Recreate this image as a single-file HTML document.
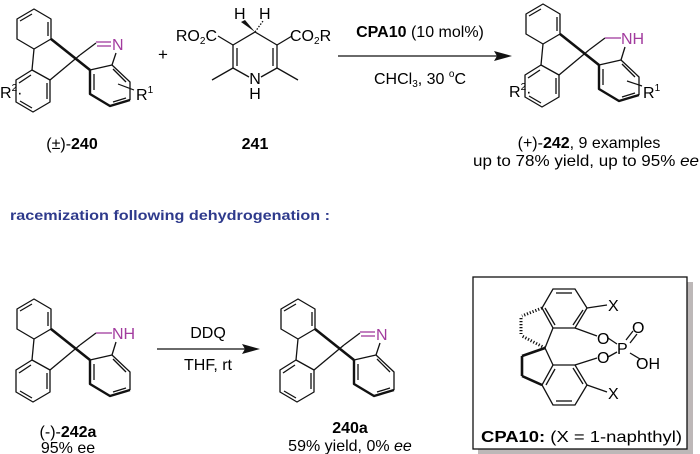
<!DOCTYPE html>
<html><head><meta charset="utf-8"><style>
html,body{margin:0;padding:0;background:#fff;}
svg{display:block;font-family:"Liberation Sans",Arial,sans-serif;}
</style></head><body>
<svg width="700" height="454" viewBox="0 0 700 454" xmlns="http://www.w3.org/2000/svg">
<defs>
<g id="sk" fill="none" stroke="#111" stroke-width="1.3" stroke-linejoin="round">
  <polygon points="34,7 51,17 51,37 34,47 17,37 17,17"/>
  <line x1="20" y1="19" x2="32" y2="12"/><line x1="48" y1="20" x2="48" y2="34"/>
  <line x1="34" y1="47" x2="32" y2="68"/>
  <polygon points="32,68 50,78 50,100 33,110 16,100 16,78"/>
  <line x1="47" y1="81" x2="47" y2="97"/><line x1="19" y1="81" x2="31" y2="73"/><line x1="20" y1="99" x2="32" y2="106"/>
  <line x1="51" y1="37" x2="90" y2="68" stroke-width="2.6"/>
  <line x1="50" y1="78" x2="80" y2="53"/>
  <line x1="80" y1="53" x2="96" y2="41"/>
  <polyline points="90,68 112,63 130,80 130,98"/>
  <polyline points="130,98 110,104 90,92 90,68" stroke-width="2.4"/>
  <line x1="94" y1="72" x2="94" y2="88"/><line x1="113" y1="67" x2="126" y2="80"/><line x1="113" y1="100" x2="126" y2="96"/>
</g>
</defs>

<!-- (±)-240 -->
<g transform="translate(0,2)">
<use href="#sk"/>
<line x1="96" y1="40" x2="111" y2="40" stroke="#a23b9e" stroke-width="1.3"/>
<line x1="97" y1="44" x2="111" y2="44" stroke="#a23b9e" stroke-width="1.3"/>
<text x="112" y="48" font-size="16" fill="#a23b9e">N</text>
<line x1="116" y1="51" x2="112" y2="63" stroke="#111" stroke-width="1.3"/>
<text x="0" y="96" font-size="16">R<tspan font-size="10" dy="-7">2</tspan><tspan dy="7">·</tspan></text>
<text x="136" y="98" font-size="16">R<tspan font-size="10" dy="-7">1</tspan></text>
<line x1="118" y1="82" x2="134" y2="88" stroke="#111" stroke-width="1.2"/>
</g>
<text x="72" y="149" font-size="16" text-anchor="middle">(±)-<tspan font-weight="bold">240</tspan></text>

<text x="163" y="60" font-size="17" text-anchor="middle">+</text>

<!-- 241 -->
<g fill="none" stroke="#111" stroke-width="1.3">
  <polyline points="233,45 255,32 277,45"/>
  <line x1="233" y1="45" x2="233" y2="68"/><line x1="237" y1="48" x2="237" y2="66"/>
  <line x1="277" y1="45" x2="277" y2="68"/><line x1="273" y1="48" x2="273" y2="66"/>
  <line x1="233" y1="68" x2="249" y2="77"/><line x1="277" y1="68" x2="261" y2="77"/>
  <line x1="233" y1="68" x2="212" y2="80"/><line x1="277" y1="68" x2="298" y2="80"/>
  <line x1="233" y1="45" x2="218" y2="36"/><line x1="277" y1="45" x2="292" y2="36"/>
  <line x1="255" y1="32" x2="263" y2="21" stroke-dasharray="1.5,1.5"/>
</g>
<polygon points="255,32 241,22 245,20" fill="#111"/>
<text x="234" y="19" font-size="16">H</text><text x="259" y="19" font-size="16">H</text>
<text x="217" y="41" font-size="16" text-anchor="end">RO<tspan font-size="10" dy="3">2</tspan><tspan dy="-3">C</tspan></text>
<text x="290" y="41" font-size="16">CO<tspan font-size="10" dy="3">2</tspan><tspan dy="-3">R</tspan></text>
<text x="255" y="84" font-size="16" text-anchor="middle">N</text>
<text x="255" y="99" font-size="16" text-anchor="middle">H</text>
<text x="255" y="149" font-size="16" font-weight="bold" text-anchor="middle">241</text>

<!-- arrow 1 -->
<line x1="338" y1="56" x2="500" y2="56" stroke="#111" stroke-width="1.3"/>
<polygon points="512,56 494,51 497,56 494,61" fill="#111"/>
<text x="420" y="37" font-size="16" text-anchor="middle"><tspan font-weight="bold">CPA10</tspan> (10 mol%)</text>
<text x="420" y="84" font-size="16" text-anchor="middle">CHCl<tspan font-size="10" dy="3">3</tspan><tspan dy="-3">, 30 </tspan><tspan font-size="10" dy="-7">o</tspan><tspan dy="7">C</tspan></text>

<!-- (+)-242 -->
<g transform="translate(509,-3)">
<use href="#sk"/>
<line x1="96" y1="41" x2="112" y2="41" stroke="#a23b9e" stroke-width="1.3"/>
<text x="112" y="47" font-size="16" fill="#a23b9e">NH</text>
<line x1="116" y1="50" x2="112" y2="63" stroke="#111" stroke-width="1.3"/>
<text x="0" y="100" font-size="16">R<tspan font-size="10" dy="-7">2</tspan><tspan dy="7">·</tspan></text>
<text x="134" y="101" font-size="16">R<tspan font-size="10" dy="-7">1</tspan></text>
<line x1="118" y1="84" x2="133" y2="89" stroke="#111" stroke-width="1.2"/>
</g>
<text x="589" y="148" font-size="16" text-anchor="middle">(+)-<tspan font-weight="bold">242</tspan>, 9 examples</text>
<text x="699" y="166" font-size="16" text-anchor="end" textLength="226" lengthAdjust="spacingAndGlyphs">up to 78% yield, up to 95% <tspan font-style="italic">ee</tspan></text>

<text x="10" y="220" font-size="14" font-weight="bold" fill="#2e3a8c" textLength="320" lengthAdjust="spacingAndGlyphs">racemization following dehydrogenation :</text>

<!-- (-)-242a -->
<g transform="translate(0,292)">
<use href="#sk"/>
<line x1="96" y1="41" x2="112" y2="41" stroke="#a23b9e" stroke-width="1.3"/>
<text x="112" y="47" font-size="16" fill="#a23b9e">NH</text>
<line x1="116" y1="50" x2="112" y2="63" stroke="#111" stroke-width="1.3"/>
</g>
<text x="68" y="437" font-size="16" text-anchor="middle">(-)-<tspan font-weight="bold">242a</tspan></text>
<text x="68" y="453" font-size="16" text-anchor="middle">95% ee</text>

<!-- arrow 2 -->
<line x1="157" y1="349" x2="248" y2="349" stroke="#111" stroke-width="1.3"/>
<polygon points="260,349 242,344 245,349 242,354" fill="#111"/>
<text x="208" y="338" font-size="16" text-anchor="middle">DDQ</text>
<text x="208" y="370" font-size="16" text-anchor="middle">THF, rt</text>

<!-- 240a -->
<g transform="translate(264,292)">
<use href="#sk"/>
<line x1="96" y1="40" x2="111" y2="40" stroke="#a23b9e" stroke-width="1.3"/>
<line x1="97" y1="44" x2="111" y2="44" stroke="#a23b9e" stroke-width="1.3"/>
<text x="112" y="48" font-size="16" fill="#a23b9e">N</text>
<line x1="116" y1="51" x2="112" y2="63" stroke="#111" stroke-width="1.3"/>
</g>
<text x="350" y="433" font-size="16" font-weight="bold" text-anchor="middle">240a</text>
<text x="350" y="451" font-size="16" text-anchor="middle">59% yield, 0% <tspan font-style="italic">ee</tspan></text>

<!-- CPA10 box -->
<rect x="478" y="282" width="215" height="172" fill="#bdb8b8"/>
<rect x="473" y="277" width="214" height="172" fill="#fff" stroke="#111" stroke-width="1.3"/>
<g fill="none" stroke="#111" stroke-width="1.3">
  <polygon points="553,289 575,289 587,308 575,328 553,328 542,308"/>
  <line x1="556" y1="293" x2="572" y2="293"/><line x1="583" y1="310" x2="573" y2="325"/><line x1="545" y1="308" x2="555" y2="325"/>
  <polygon points="553,365 575,365 587,385 575,405 553,405 542,385"/>
  <line x1="556" y1="401" x2="572" y2="401"/><line x1="583" y1="384" x2="573" y2="368"/><line x1="546" y1="385" x2="555" y2="369"/>
  <line x1="587" y1="308" x2="607" y2="305"/><line x1="587" y1="385" x2="607" y2="392"/>
  <line x1="575" y1="328" x2="597" y2="336"/><line x1="575" y1="365" x2="597" y2="358"/>
  <line x1="608" y1="338" x2="617" y2="344"/><line x1="608" y1="357" x2="617" y2="352"/>
  <line x1="626" y1="340" x2="633" y2="331"/><line x1="630" y1="343" x2="637" y2="334"/>
  <line x1="630" y1="353" x2="640" y2="359"/>
  <line x1="545" y1="348" x2="553" y2="328"/><line x1="545" y1="348" x2="553" y2="365"/>
  <line x1="545" y1="348" x2="522" y2="356" stroke-width="2.6"/>
  <line x1="522" y1="356" x2="522" y2="376" stroke-width="2.6"/>
  <line x1="522" y1="376" x2="542" y2="385" stroke-width="2.6"/>
  <line x1="545" y1="348" x2="522" y2="336" stroke-dasharray="1.2,1.8" stroke-width="3"/>
  <line x1="542" y1="308" x2="522" y2="316" stroke-dasharray="1.2,1.8" stroke-width="3"/>
  <line x1="521" y1="318" x2="521" y2="334" stroke-dasharray="1.2,1.8" stroke-width="3"/>
</g>
<text x="608" y="311" font-size="16">X</text>
<text x="608" y="399" font-size="16">X</text>
<text x="597" y="344" font-size="16">O</text>
<text x="597" y="363" font-size="16">O</text>
<text x="617" y="354" font-size="16">P</text>
<text x="632" y="333" font-size="16">O</text>
<text x="636" y="369" font-size="16">OH</text>
<text x="481" y="442" font-size="16" textLength="201" lengthAdjust="spacingAndGlyphs"><tspan font-weight="bold">CPA10:</tspan> (X = 1-naphthyl)</text>
</svg>
</body></html>
